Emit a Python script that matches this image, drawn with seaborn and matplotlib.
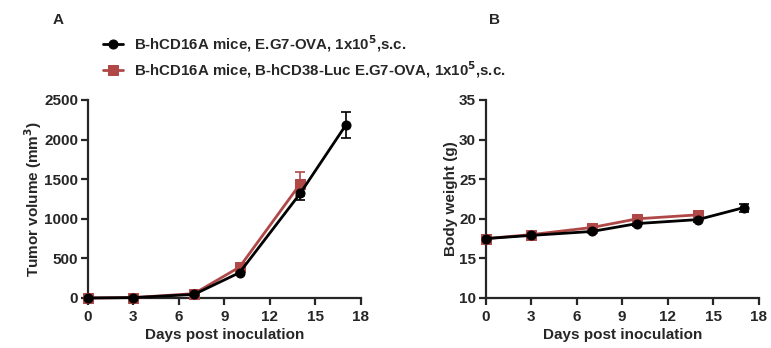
import numpy as np
import pandas as pd
import matplotlib
matplotlib.use("Agg")
import matplotlib.pyplot as plt
import seaborn as sns

sns.set_style("ticks")
plt.rcParams['font.family'] = ['Liberation Sans', 'DejaVu Sans']
plt.rcParams['font.weight'] = 'bold'
plt.rcParams['mathtext.default'] = 'bf'

# Data
days_black = [0, 3, 7, 10, 14, 17]
days_red = [0, 3, 7, 10, 14]
tumor_black = [0, 5, 45, 320, 1320, 2180]
tumor_black_err = [0, 3, 10, 25, 80, 165]
tumor_red = [0, 5, 55, 390, 1440]
tumor_red_err = [0, 3, 12, 30, 150]
weight_black = [17.5, 17.9, 18.4, 19.4, 19.9, 21.4]
weight_black_err = [0.1, 0.2, 0.2, 0.3, 0.3, 0.5]
weight_red = [17.5, 18.0, 18.9, 20.0, 20.5]
weight_red_err = [0.1, 0.2, 0.2, 0.2, 0.3]

label_black = r"B-hCD16A mice, E.G7-OVA, 1x10$^{5}$,s.c."
label_red = r"B-hCD16A mice, B-hCD38-Luc E.G7-OVA, 1x10$^{5}$,s.c."

black = "#000000"
red = "#B04848"

fig = plt.figure(figsize=(7.71, 3.48), dpi=100)
axA = fig.add_axes([0.114, 0.1437, 0.354, 0.569])
axB = fig.add_axes([0.630, 0.1437, 0.354, 0.569])

def draw(ax, x, y, err, color, marker, label, ms):
    df = pd.DataFrame({"x": x, "y": y})
    ax.errorbar(x, y, yerr=err, fmt='none', ecolor=color, elinewidth=1.2,
                capsize=3.5, capthick=1.2, clip_on=False, zorder=2)
    sns.lineplot(data=df, x="x", y="y", ax=ax, color=color, marker=marker,
                 markersize=ms, markeredgecolor=color, linewidth=2,
                 label=label, clip_on=False, zorder=3)

for ax, yb, eb, yr, er in [(axA, tumor_black, tumor_black_err, tumor_red, tumor_red_err),
                           (axB, weight_black, weight_black_err, weight_red, weight_red_err)]:
    draw(ax, days_red, yr, er, red, 's', label_red, 6.5)
    draw(ax, days_black, yb, eb, black, 'o', label_black, 6.5)
    ax.set_xlim(0, 18)
    ax.set_xticks([0, 3, 6, 9, 12, 15, 18])
    ax.set_xlabel("Days post inoculation", fontsize=11, fontweight='bold', labelpad=3)
    for s in ['top', 'right']:
        ax.spines[s].set_visible(False)
    for s in ['left', 'bottom']:
        ax.spines[s].set_linewidth(1.6)
    ax.tick_params(width=1.6, length=5, labelsize=11)
    ax.tick_params(axis='y', pad=2)
    ax.get_legend().remove()

axA.set_ylim(0, 2500)
axA.set_yticks([0, 500, 1000, 1500, 2000, 2500])
axA.set_ylabel(r"Tumor volume (mm$^{3}$)", fontsize=11, fontweight='bold', labelpad=0)
axB.set_ylim(10, 35)
axB.set_yticks([10, 15, 20, 25, 30, 35])
axB.set_ylabel("Body weight (g)", fontsize=11, fontweight='bold', labelpad=1)
for t in axA.get_xticklabels() + axA.get_yticklabels() + axB.get_xticklabels() + axB.get_yticklabels():
    t.set_fontweight('bold')

handles, labels = axA.get_legend_handles_labels()
fig.legend(handles[::-1], labels[::-1], loc='upper left', bbox_to_anchor=(0.1336, 0.905),
           frameon=False, prop={'weight': 'bold', 'size': 10.8}, handlelength=1.3,
           handletextpad=0.75, borderpad=0, borderaxespad=0,
           labelspacing=0.35, markerscale=1.0)

fig.text(0.068, 0.93, "A", fontsize=11, fontweight='bold')
fig.text(0.634, 0.93, "B", fontsize=11, fontweight='bold')

fig.savefig("out.png", dpi=100)
